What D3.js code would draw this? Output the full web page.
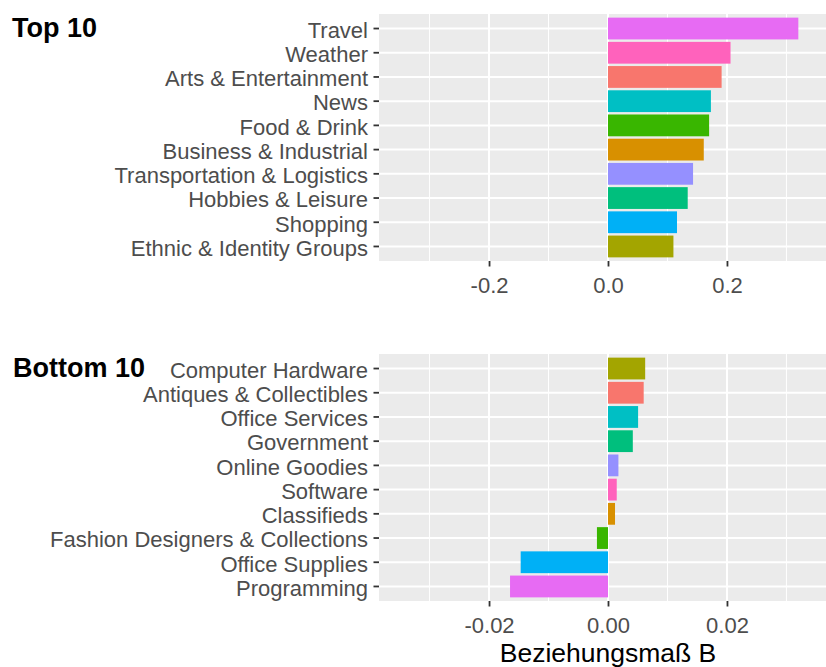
<!DOCTYPE html>
<html>
<head>
<meta charset="utf-8">
<script src="https://cdn.jsdelivr.net/npm/d3@7"></script>
<style>
  html, body { margin: 0; padding: 0; background: #fff; }
  svg { display: block; font-family: "Liberation Sans", Arial, sans-serif; }
</style>
</head>
<body>
<svg id="chart" width="826" height="667"></svg>
<script>
// ---- Data ----
const topCategories = ["Travel", "Weather", "Arts & Entertainment", "News", "Food & Drink",
  "Business & Industrial", "Transportation & Logistics", "Hobbies & Leisure", "Shopping",
  "Ethnic & Identity Groups"];
const topValues = [0.320, 0.206, 0.191, 0.173, 0.170, 0.161, 0.143, 0.134, 0.116, 0.110];

const bottomCategories = ["Computer Hardware", "Antiques & Collectibles", "Office Services",
  "Government", "Online Goodies", "Software", "Classifieds", "Fashion Designers & Collections",
  "Office Supplies", "Programming"];
const bottomValues = [0.00625, 0.0060, 0.00506, 0.00417, 0.00175, 0.00147, 0.00118, -0.00186, -0.01468, -0.01647];

const topTicks = [-0.2, 0.0, 0.2];
const topTickLabels = ["-0.2", "0.0", "0.2"];
const topMinor = [-0.3, -0.1, 0.1, 0.3];
const bottomTicks = [-0.02, 0.0, 0.02];
const bottomTickLabels = ["-0.02", "0.00", "0.02"];
const bottomMinor = [-0.03, -0.01, 0.01, 0.03];

const hueColors = ["#F8766D", "#D89000", "#A3A500", "#39B600", "#00BF7D",
  "#00BFC4", "#00B0F6", "#9590FF", "#E76BF3", "#FF62BC"];

const panelTitles = ["Top 10", "Bottom 10"];
const axisTitle = "Beziehungsmaß B";

// ---- Layout ----
const svg = d3.select("#chart");
const panelLeft = 379, panelRight = 837;
const tickFont = 22;

function drawPanel(cfg) {
  const g = svg.append("g");
  const x = d3.scaleLinear().domain(cfg.domain).range([panelLeft, panelRight]);
  const y = d3.scaleBand().domain(cfg.categories).range([cfg.top, cfg.bottom])
    .paddingInner(0.1).paddingOuter(0.15);
  const color = d3.scaleOrdinal()
    .domain(cfg.categories.slice().sort((a, b) => a < b ? -1 : a > b ? 1 : 0))
    .range(hueColors);

  // background
  g.append("rect").attr("x", panelLeft).attr("y", cfg.top)
    .attr("width", panelRight - panelLeft).attr("height", cfg.bottom - cfg.top)
    .attr("fill", "#EBEBEB");

  // minor gridlines
  g.selectAll(".minor").data(cfg.minor).join("line")
    .attr("x1", d => x(d)).attr("x2", d => x(d))
    .attr("y1", cfg.top).attr("y2", cfg.bottom)
    .attr("stroke", "#fff").attr("stroke-width", 1);
  // major vertical
  g.selectAll(".majorv").data(cfg.ticks).join("line")
    .attr("x1", d => x(d)).attr("x2", d => x(d))
    .attr("y1", cfg.top).attr("y2", cfg.bottom)
    .attr("stroke", "#fff").attr("stroke-width", 2);
  // major horizontal
  g.selectAll(".majorh").data(cfg.categories).join("line")
    .attr("x1", panelLeft).attr("x2", panelRight)
    .attr("y1", d => y(d) + y.bandwidth() / 2).attr("y2", d => y(d) + y.bandwidth() / 2)
    .attr("stroke", "#fff").attr("stroke-width", 2);

  // bars
  g.selectAll(".bar").data(cfg.categories.map((c, i) => ({ c, v: cfg.values[i] }))).join("rect")
    .attr("x", d => x(Math.min(0, d.v)))
    .attr("width", d => Math.abs(x(d.v) - x(0)))
    .attr("y", d => y(d.c))
    .attr("height", y.bandwidth())
    .attr("fill", d => color(d.c));

  // y axis
  const ya = g.append("g").attr("transform", `translate(${panelLeft},0)`)
    .call(d3.axisLeft(y).tickSize(5.5).tickPadding(5.5));
  ya.select(".domain").remove();
  ya.selectAll(".tick line").attr("stroke", "#333").attr("stroke-width", 1.8);
  ya.selectAll(".tick text").attr("fill", "#4D4D4D").attr("dy", "0.42em")
    .style("font-size", tickFont + "px")
    .style("font-family", "'Liberation Sans', Arial, sans-serif");

  // x axis
  const xa = g.append("g").attr("transform", `translate(0,${cfg.bottom})`)
    .call(d3.axisBottom(x).tickValues(cfg.ticks).tickFormat((d, i) => cfg.tickLabels[i])
      .tickSize(5.5).tickPadding(11));
  xa.select(".domain").remove();
  xa.selectAll(".tick line").attr("stroke", "#333").attr("stroke-width", 1.8);
  xa.selectAll(".tick text").attr("fill", "#4D4D4D").style("font-size", tickFont + "px")
    .style("font-family", "'Liberation Sans', Arial, sans-serif");

  // title
  svg.append("text").attr("x", cfg.titleX).attr("y", cfg.titleY)
    .attr("font-weight", "bold").attr("font-size", 27).attr("fill", "#000")
    .text(cfg.title);
  return x;
}

drawPanel({
  categories: topCategories, values: topValues, domain: [-0.385, 0.385],
  ticks: topTicks, tickLabels: topTickLabels, minor: topMinor,
  top: 14, bottom: 261, title: panelTitles[0], titleX: 12, titleY: 37
});
drawPanel({
  categories: bottomCategories, values: bottomValues, domain: [-0.0385, 0.0385],
  ticks: bottomTicks, tickLabels: bottomTickLabels, minor: bottomMinor,
  top: 354, bottom: 601, title: panelTitles[1], titleX: 13, titleY: 377
});

svg.append("text").attr("x", (panelLeft + panelRight) / 2).attr("y", 662)
  .attr("text-anchor", "middle").attr("font-size", 26.5).attr("fill", "#000")
  .text(axisTitle);
</script>
</body>
</html>
